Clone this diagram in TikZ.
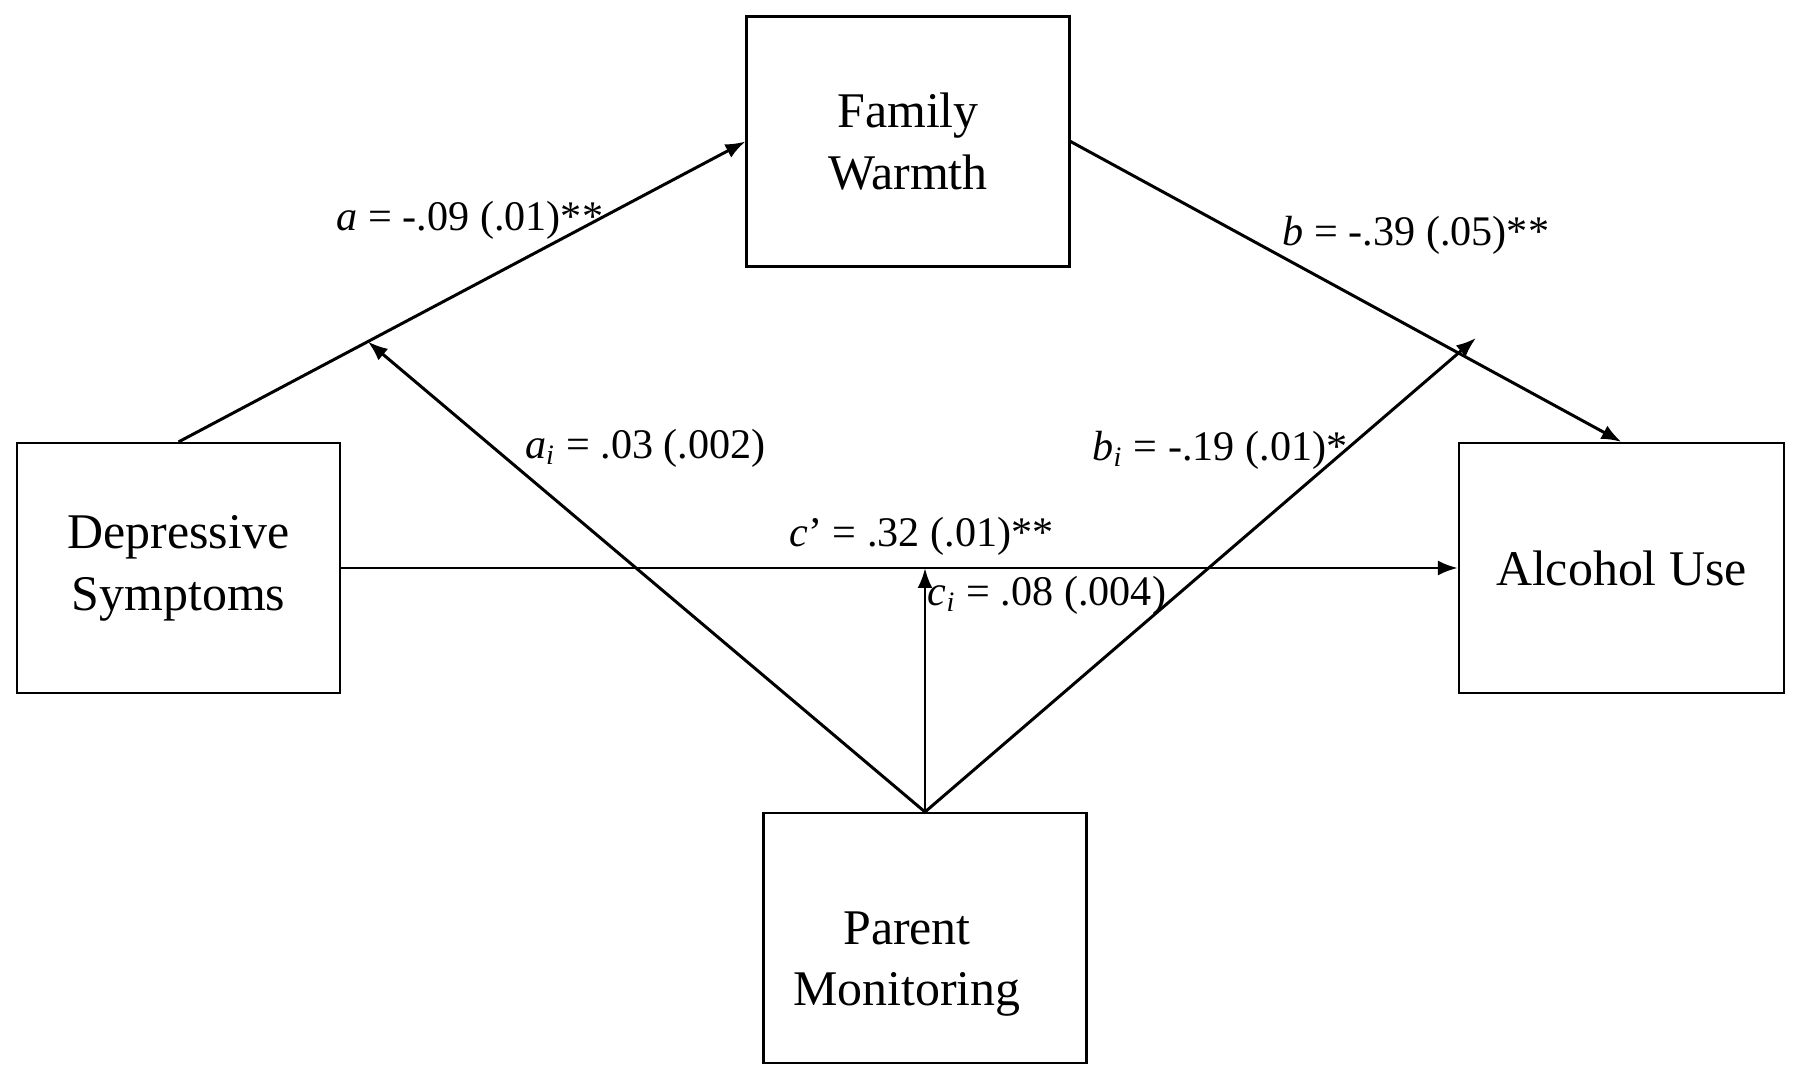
\documentclass[tikz,border=0pt]{standalone}
\usepackage{fontspec}
\setmainfont{Liberation Serif}
\usetikzlibrary{arrows.meta,calc}
\pgfdeclarelayer{bg}
\pgfsetlayers{bg,main}
\tikzset{
  boxtext/.style={align=center, font=\fontsize{14.2}{17.6}\selectfont},
  box/.style={boxtext, draw, line width=0.6pt, minimum width=3.23cm, minimum height=2.5cm},
  coef/.style={font=\fontsize{12}{14}\selectfont, inner sep=1pt},
  link/.style={line width=0.85pt, -{Latex[length=2mm,width=1.5mm]}}
}

\begin{document}
\begin{tikzpicture}
        \useasboundingbox (0,0) rectangle (18cm,10.79cm);
        \node (fw) [box] at (9.08cm, 9.375cm) {Family\\Warmth};
        \node (ds) [box] at (1.785cm, 5.11cm) {Depressive\\Symptoms};
        \node (au) [box, minimum width=3.25cm] at (16.215cm, 5.11cm) {Alcohol Use};
        \node (pm) [box, label={[boxtext, xshift=-0.18cm, yshift=-0.26cm]center:Parent\\Monitoring}] at (9.25cm, 1.41cm) {};
        \coordinate (ai) at ($(ds.north)!0.334!(fw.west)$);
        \coordinate (bi) at (14.76cm, 7.41cm);
        \coordinate (ci) at (pm.north |- ds.east);
        \node (la) [coef] at (4.70cm, 8.59cm) {\textit{a} = -.09 (.01)**};
        \node (lb) [coef] at (14.16cm, 8.44cm) {\textit{b} = -.39 (.05)**};
        \node (lai) [coef] at (6.455cm, 6.31cm) {\textit{a}\textsubscript{\textit{i}} = .03 (.002)};
        \node (lbi) [coef] at (12.20cm, 6.29cm) {\textit{b}\textsubscript{\textit{i}} = -.19 (.01)*};
        \node (lc) [coef] at (9.215cm, 5.43cm) {\textit{c}’ = .32 (.01)**};
        \node (lci) [coef] at (10.47cm, 4.84cm) {\textit{c}\textsubscript{\textit{i}} = .08 (.004)};
        \begin{pgfonlayer}{bg}
                \draw (ds.north) edge [link] (fw.west);
                \draw (fw.east) edge [link] (au.north);
                \draw (ds.east) edge [link] (au.west);
                \draw (pm.north) edge [link] (ai);
                \draw (pm.north) edge [link] (bi);
                \draw (pm.north) edge [link] (ci);
        \end{pgfonlayer}
\end{tikzpicture}
\end{document}
